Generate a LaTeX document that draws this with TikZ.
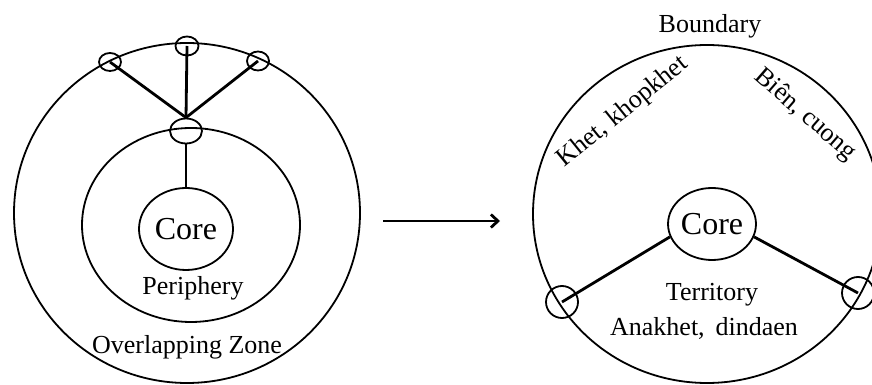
\documentclass[tikz,border=0pt]{standalone}
\usepackage{fontspec}
\setmainfont{Liberation Serif}
\usetikzlibrary{shapes.geometric,arrows.meta}
\tikzset{
  ring/.style={draw, ellipse, line width=1.8pt, inner sep=0pt},
  knot/.style={draw, ellipse, line width=1.8pt, inner sep=0pt},
  spoke/.style={line width=2.8pt},
  lbl/.style={inner sep=0pt, font=\fontsize{26}{30}\selectfont},
  corelbl/.style={font=\fontsize{32}{36}\selectfont}
}
\begin{document}
\begin{tikzpicture}[x=1pt,y=1pt]
\useasboundingbox (0,0) rectangle (872,385);
% left diagram
\node[ring, minimum width=346pt, minimum height=340pt] (outer) at (187,172) {};
\node[ring, minimum width=218pt, minimum height=194pt] (periph) at (191,160) {};
\node[ring, corelbl, minimum width=94pt, minimum height=82pt] (core) at (186,156) {Core};
\node[knot, minimum width=32pt, minimum height=25pt] (sp) at (186,254) {};
\node[knot, minimum width=22pt, minimum height=18pt] (s1) at (110,323) {};
\node[knot, minimum width=23pt, minimum height=19pt] (s2) at (187,339) {};
\node[knot, minimum width=22pt, minimum height=19pt] (s3) at (258,324) {};
\draw[spoke] (sp.north) -- (s1.center);
\draw[spoke] (sp.north) -- (s2.center);
\draw[spoke] (sp.north) -- (s3.center);
\draw[spoke] (sp.south) -- (core.north);
\node[lbl] (plbl) at (193,97) {Periphery};
\node[lbl] (olbl) at (187,38) {Overlapping Zone};
% arrow
\coordinate (a1) at (383,164);
\coordinate (a2) at (500,164);
\draw[line width=2.8pt, -{Straight Barb[length=7pt,width=13pt]}] (a1) -- (a2);
% right diagram
\node[ring, minimum width=348pt, minimum height=338pt] (big) at (707,171) {};
\node[ring, corelbl, minimum width=84pt, minimum height=72pt] (core2) at (712,161) {Core};
\node[knot, minimum width=32pt, minimum height=32pt] (t1) at (562,83) {};
\node[knot, minimum width=32pt, minimum height=32pt] (t2) at (858,92) {};
\draw[spoke] (t1.center) -- (core2.197);
\draw[spoke] (core2.343) -- (t2.center);
\node[lbl] (blbl) at (710,359) {Boundary};
\node[lbl, rotate=39] (klbl) at (623,273) {Khet, khopkhet};
\node[lbl, rotate=-41] (bclbl) at (805,270) {Biên, cuong};
\node[lbl] (tlbl) at (712,90) {Territory};
\node[lbl] (albl) at (704,57) {Anakhet,\, dindaen};
\end{tikzpicture}
\end{document}
